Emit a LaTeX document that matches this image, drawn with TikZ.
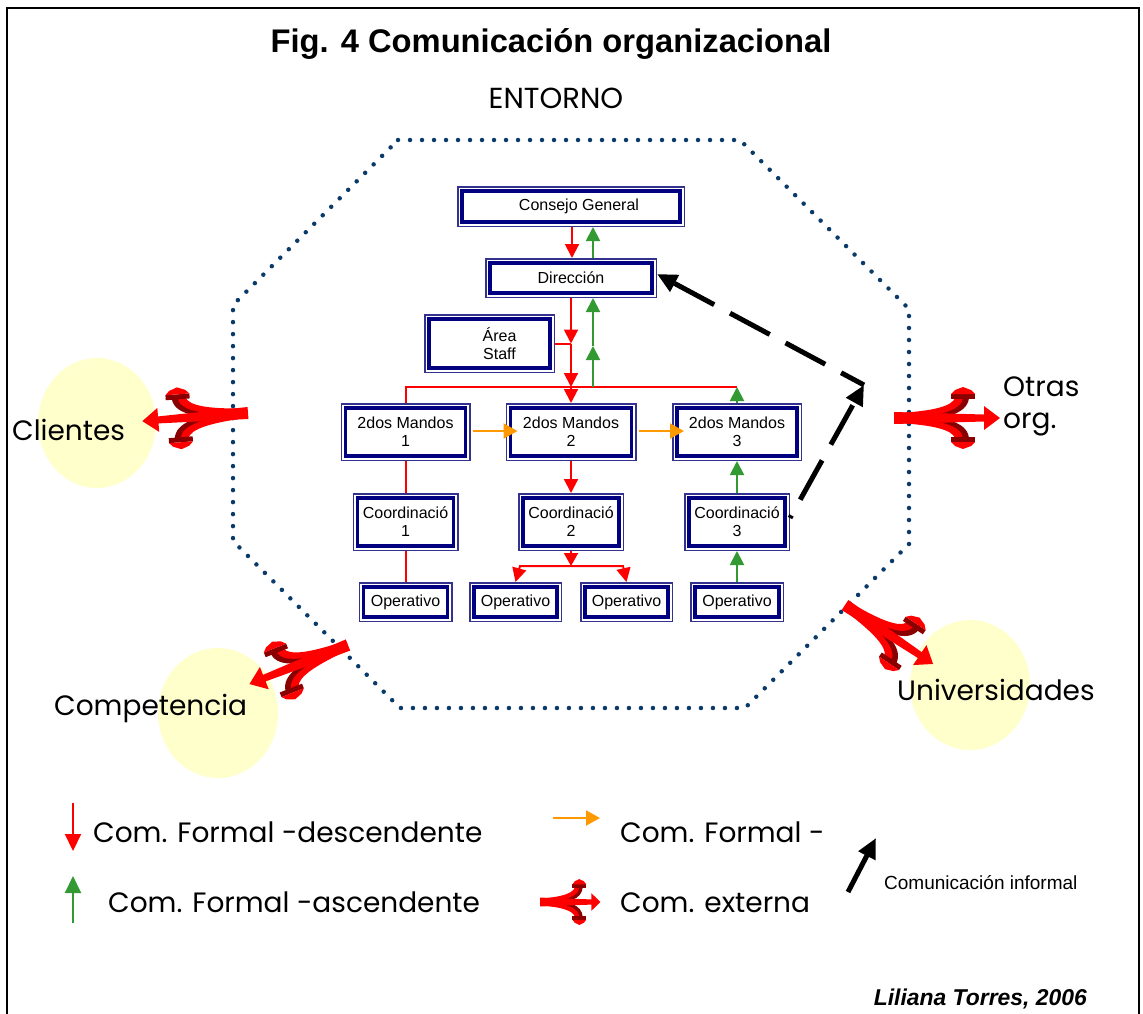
\documentclass[tikz,border=0pt]{standalone}
\usepackage{fontspec}
\setmainfont{Liberation Sans}
\newfontfamily\gothic{Poppins}
\usetikzlibrary{arrows.meta}

\definecolor{navyb}{HTML}{000080}
\definecolor{navyo}{HTML}{33338F}
\definecolor{dotblue}{HTML}{0A3A6A}
\definecolor{redc}{HTML}{FF0000}
\definecolor{darkred}{HTML}{8A0000}
\definecolor{greenc}{HTML}{339933}
\definecolor{orangec}{HTML}{FF9900}
\definecolor{paleyellow}{HTML}{FFFFCC}

% three-pronged external communication arrow, pointing along +x from the origin
\newcommand\forkshape{%
  \foreach \s in {1,-1}{%
    \begin{scope}[yscale=\s]
      \fill[darkred] (10,-2) .. controls (42,-4) and (64,-9) .. (66,-20) -- (75,-20) .. controls (73,-3) and (48,1) .. (24,1) -- cycle;
      \fill[redc] (4,-5) .. controls (40,-7) and (58,-12) .. (61,-20) -- (69,-20) .. controls (67,-7) and (44,-2) .. (16,-1) -- cycle;
      \fill[darkred] (57,-24) rectangle (81,-19);
      \fill[redc] (57,-24) -- (61,-28) -- (69,-31) -- (77,-28) -- (81,-24) -- cycle;
    \end{scope}}%
  \fill[redc] (0,-6) -- (90,-3.5) -- (90,-12) -- (106,0) -- (90,12) -- (90,3.5) -- (0,6) -- cycle;
}

\begin{document}
\begin{tikzpicture}[x=1pt,y=-1pt,
  orgbox/.style={rectangle, fill=white, draw=navyb, line width=3.5pt,
    preaction={draw=navyo, line width=10pt},
    preaction={draw=white, line width=7pt},
    inner sep=0pt, outer sep=5pt, align=center,
    font=\fontsize{16}{18}\selectfont},
  redline/.style={draw=redc, line width=2pt},
  redarrow/.style={redline, -{Triangle[length=14pt,width=14pt]}},
  greenarrow/.style={draw=greenc, line width=2pt, -{Triangle[length=14pt,width=14pt]}},
  orangearrow/.style={draw=orangec, line width=2pt, -{Triangle[length=14pt,width=15pt]}},
  informal/.style={draw=black, line width=5pt, -{Triangle[length=20pt,width=18pt]}},
  gtext/.style={inner sep=0pt, font=\gothic\fontsize{28}{32}\selectfont},
  circ/.style={fill=paleyellow, draw=none}
]
\useasboundingbox (0,0) rectangle (1143,1013);
\clip (0,0) rectangle (1143,1013);

% frame
\draw[line width=2pt] (7,1030) -- (7,8) -- (1139,8) -- (1139,1030);

% title and environment
\node[inner sep=0pt, anchor=base, font=\bfseries\fontsize{32.7}{36}\selectfont] (title) at (551,52) {Fig. 4 Comunicación organizacional};
\node[gtext, anchor=base, font=\gothic\fontsize{29}{32}\selectfont] (entorno) at (556,108) {ENTORNO};

% external agents
\fill[circ] (97,423) ellipse [x radius=59, y radius=65];
\fill[circ] (218,713) ellipse [x radius=60, y radius=65];
\fill[circ] (970,685) ellipse [x radius=60, y radius=65];

% environment boundary
\draw[dotblue, line width=4.5pt, line cap=round, dash pattern=on 0pt off 12pt]
  (398,140) -- (740,140) -- (909,309) -- (909,544) -- (745,708) -- (400,708) -- (233,541) -- (233,305) -- cycle;

% external communication arrows
\begin{scope}[shift={(248,413)}, rotate=184.4] \forkshape \end{scope}
\begin{scope}[shift={(348,645)}, rotate=201.6] \forkshape \end{scope}
\begin{scope}[shift={(845,605)}, rotate=-33.8] \forkshape \end{scope}
\begin{scope}[shift={(894,418)}] \forkshape \end{scope}

\node[gtext, anchor=base west] (clientes) at (12,440) {Clientes};
\node[gtext, anchor=base west, align=left] (otras) at (1003,428) {Otras\\org.};
\node[gtext, anchor=base west] (competencia) at (54,715) {Competencia};
\node[gtext, anchor=base west] (universidades) at (897,700) {Universidades};

% organisation chart
\node[orgbox, minimum width=218pt, minimum height=31pt] (cg) at (571,206.5) {\hspace*{16pt}Consejo General};
\node[orgbox, minimum width=162pt, minimum height=30pt] (dir) at (571,278) {Dirección};
\node[orgbox, minimum width=121pt, minimum height=49pt] (staff) at (489.5,343.5) {\hspace*{20pt}Área\\\hspace*{20pt}Staff};
\node[orgbox, minimum width=120pt, minimum height=48pt] (m1) at (405.5,432) {2dos Mandos\\1};
\node[orgbox, minimum width=121pt, minimum height=48pt] (m2) at (571,432) {2dos Mandos\\2};
\node[orgbox, minimum width=120pt, minimum height=48pt] (m3) at (737,432) {2dos Mandos\\3};
\node[orgbox, minimum width=96pt, minimum height=48pt] (c1) at (405.5,522) {Coordinació\\1};
\node[orgbox, minimum width=96pt, minimum height=48pt] (c2) at (571,522) {Coordinació\\2};
\node[orgbox, minimum width=96pt, minimum height=48pt] (c3) at (737,522) {Coordinació\\3};
\node[orgbox, minimum width=84pt, minimum height=30pt] (o1) at (405.5,602) {Operativo};
\node[orgbox, minimum width=83pt, minimum height=30pt] (o2) at (515.5,602) {Operativo};
\node[orgbox, minimum width=83pt, minimum height=30pt] (o3) at (626.5,602) {Operativo};
\node[orgbox, minimum width=84pt, minimum height=30pt] (o4) at (737,602) {Operativo};

% junction points
\coordinate (busL) at (405.5,387);
\coordinate (busR) at (737,387);
\coordinate (staffj) at (571,343.5);
\coordinate (gmid) at (593,346);
\coordinate (c2fork) at (571,566);
\coordinate (bend) at (864,385);

% formal communication
\draw[redarrow] ([xshift=1pt]cg.south) -- ([xshift=1pt]dir.north);
\draw[greenarrow] ([xshift=22pt]dir.north) -- ([xshift=22pt]cg.south);
\draw[redarrow] (dir.south) -- (staffj);
\draw[redline] (staff.east) -- (staffj);
\draw[redarrow] (staffj) -- (staffj |- busL);
\draw[redline] (m1.north) -- (busL) -- (busR);
\draw[redarrow] (staffj |- busL) -- (m2.north);
\draw[greenarrow] (gmid |- busL) -- (gmid);
\draw[greenarrow] (gmid) -- ([xshift=22pt]dir.south);
\draw[greenarrow] (m3.north) -- (busR);
\draw[orangearrow] ([xshift=2pt,yshift=1pt]m1.east) -- ([xshift=12pt,yshift=1pt]m2.west);
\draw[orangearrow] ([xshift=2pt,yshift=1pt]m2.east) -- ([xshift=12pt,yshift=1pt]m3.west);
\draw[redline] (m1.south) -- (c1.north);
\draw[redline] (c1.south) -- (o1.north);
\draw[redarrow] (m2.south) -- (c2.north);
\draw[redarrow, -{Triangle[length=13pt,width=14pt]}] (c2.south) -- (c2fork);
\draw[redarrow] (c2fork) -- ++(-51,0) -- (o2.north);
\draw[redarrow] (c2fork) -- ++(52,0) -- (o3.north);
\draw[greenarrow] (c3.north) -- (m3.south);
\draw[greenarrow] (o4.north) -- (c3.south);

% informal communication
\draw[informal, dash pattern=on 45pt off 18pt, dash phase=42pt] ([yshift=4pt]c3.east) -- (bend);
\draw[informal, dash pattern=on 45pt off 18pt, dash phase=19pt] (bend) -- ([yshift=4pt]dir.east);

% legend
\coordinate (ld1) at (73,803);
\coordinate (ld2) at (73,851);
\coordinate (la1) at (73,923);
\coordinate (la2) at (73,876);
\coordinate (lo1) at (553,818);
\coordinate (lo2) at (600,818);
\coordinate (li1) at (848,892);
\coordinate (li2) at (876,838);
\draw[redline, -{Triangle[length=17pt,width=16pt]}] (ld1) -- (ld2);
\draw[draw=greenc, line width=2pt, -{Triangle[length=17pt,width=16pt]}] (la1) -- (la2);
\draw[orangearrow] (lo1) -- (lo2);
\draw[informal] (li1) -- (li2);
\begin{scope}[shift={(540,902)}, xscale=0.57, yscale=0.74] \forkshape \end{scope}

\node[gtext, anchor=base west] (ldesc) at (93,842) {Com. Formal -descendente};
\node[gtext, anchor=base west] (lasc) at (108,912) {Com. Formal -ascendente};
\node[gtext, anchor=base west] (lhor) at (620,842) {Com. Formal -};
\node[gtext, anchor=base west] (lext) at (620,912) {Com. externa};
\node[inner sep=0pt, anchor=base west, font=\fontsize{19}{22}\selectfont] (linf) at (884,889) {Comunicación informal};

\node[inner sep=0pt, anchor=base east, font=\bfseries\itshape\fontsize{22.9}{26}\selectfont] (author) at (1087,1005) {Liliana Torres, 2006};
\end{tikzpicture}
\end{document}
